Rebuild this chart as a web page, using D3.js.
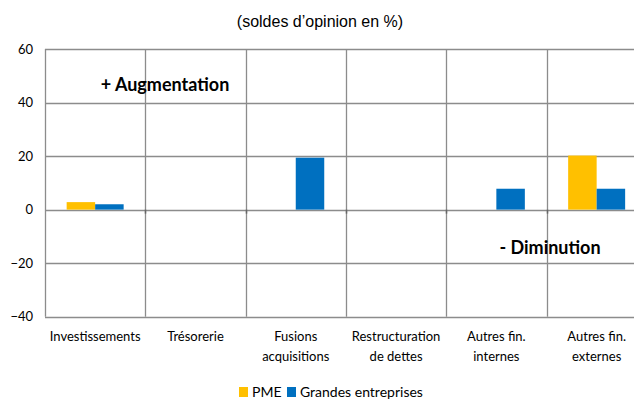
<!DOCTYPE html>
<html>
<head>
<meta charset="utf-8">
<script src="https://cdn.jsdelivr.net/npm/d3@7"></script>
<style>
  body { margin: 0; background: #fff; }
  text { font-family: Lato, "Open Sans", sans-serif; fill: #000; }
</style>
</head>
<body>
<div id="chart"></div>
<script>
    // Categories (line breaks with \n)
    var categories = ["Investissements", "Trésorerie", "Fusions\nacquisitions",
        "Restructuration\nde dettes", "Autres fin.\ninternes", "Autres fin.\nexternes"];
    var series = ["PME", "Grandes entreprises"];
    // soldes d'opinion en %
    var pme = [2.8, 0, 0, 0, 0, 20.2];
    var grandes = [2.0, 0, 19.4, 0, 7.8, 7.8];
    var yTicks = [-40, -20, 0, 20, 40, 60];
    var colors = ["#FFC000", "#0070C0"];

(function() {
    var width = 634, height = 400;
    var mLeft = 45, mTop = 49, mBottom = 316.7;
    var catWidth = 100.3;

    var svg = d3.select("#chart").append("svg")
        .attr("width", width)
        .attr("height", height);

    var x = d3.scaleBand()
        .domain(categories)
        .range([mLeft, mLeft + catWidth * categories.length]);
    var x1 = d3.scaleBand()
        .domain(series)
        .range([0, x.bandwidth()])
        .paddingOuter(0.76);
    var y = d3.scaleLinear()
        .domain([-40, 60])
        .range([mBottom, mTop]);

    // title
    svg.append("text")
        .attr("x", 320).attr("y", 27)
        .attr("text-anchor", "middle")
        .style("font-family", "'Liberation Sans', Arial, sans-serif")
        .style("font-size", "16px")
        .text("(soldes d’opinion en %)");

    // horizontal grid
    svg.append("g").selectAll("line")
        .data(yTicks)
        .enter().append("line")
        .attr("x1", mLeft).attr("x2", width)
        .attr("y1", function(d) { return Math.round(y(d)) + 0.5; })
        .attr("y2", function(d) { return Math.round(y(d)) + 0.5; })
        .attr("stroke", "#8c8c8c")
        .attr("stroke-width", 1.3);

    // vertical grid at category boundaries
    var bounds = categories.map(function(c) { return x(c); });
    svg.append("g").selectAll("line")
        .data(bounds)
        .enter().append("line")
        .attr("x1", function(d) { return Math.round(d) + 0.5; })
        .attr("x2", function(d) { return Math.round(d) + 0.5; })
        .attr("y1", mTop).attr("y2", mBottom)
        .attr("stroke", "#8c8c8c")
        .attr("stroke-width", 1.3);

    // small tick marks on zero line
    svg.append("g").selectAll("line")
        .data(bounds.slice(1))
        .enter().append("line")
        .attr("x1", function(d) { return Math.round(d) + 0.5; })
        .attr("x2", function(d) { return Math.round(d) + 0.5; })
        .attr("y1", y(0)).attr("y2", y(0) + 4)
        .attr("stroke", "#666")
        .attr("stroke-width", 1.5);

    // y labels
    var yAxis = d3.axisLeft(y).tickValues(yTicks).tickSize(0).tickPadding(12);
    var gy = svg.append("g")
        .attr("transform", "translate(" + mLeft + ",0)")
        .call(yAxis);
    gy.select(".domain").remove();
    gy.selectAll("text")
        .style("font-size", "13px")
        .style("font-family", "Lato, sans-serif")
        .attr("fill", "#000");

    // bars (skip empty values, keep category index)
    var data = [pme, grandes];
    data.forEach(function(vals, s) {
        var pts = vals.map(function(v, i) { return { cat: categories[i], v: v }; })
            .filter(function(d) { return d.v !== 0; });
        svg.append("g").selectAll("rect")
            .data(pts)
            .enter().append("rect")
            .attr("x", function(d) { return x(d.cat) + x1(series[s]); })
            .attr("width", x1.bandwidth())
            .attr("y", function(d) { return y(Math.max(0, d.v)); })
            .attr("height", function(d) { return Math.abs(y(d.v) - y(0)); })
            .attr("fill", colors[s]);
    });

    // category labels
    var cat = svg.append("g").selectAll("text")
        .data(categories)
        .enter().append("text")
        .attr("text-anchor", "middle")
        .style("font-size", "13px")
        .attr("transform", function(d) {
            return "translate(" + (x(d) + x.bandwidth() / 2) + ",341)";
        });
    cat.selectAll("tspan")
        .data(function(d) { return d.split("\n"); })
        .enter().append("tspan")
        .attr("x", 0)
        .attr("dy", function(d, i) { return i ? 20 : 0; })
        .text(function(d) { return d; });

    // annotations
    svg.append("text")
        .attr("x", 165).attr("y", 91)
        .attr("text-anchor", "middle")
        .style("font-size", "18px")
        .style("font-weight", "bold")
        .text("+ Augmentation");
    svg.append("text")
        .attr("x", 550).attr("y", 254)
        .attr("text-anchor", "middle")
        .style("font-size", "18px")
        .style("font-weight", "bold")
        .text("- Diminution");

    // legend
    var legend = svg.append("g").attr("transform", "translate(239,387)");
    var lx = [0, 48];
    series.forEach(function(s, i) {
        legend.append("rect")
            .attr("x", lx[i]).attr("y", 0)
            .attr("width", 9).attr("height", 10)
            .attr("fill", colors[i]);
        legend.append("text")
            .attr("x", lx[i] + 13).attr("y", 10)
            .style("font-size", "14px")
            .text(s);
    });
})();
</script>
</body>
</html>
